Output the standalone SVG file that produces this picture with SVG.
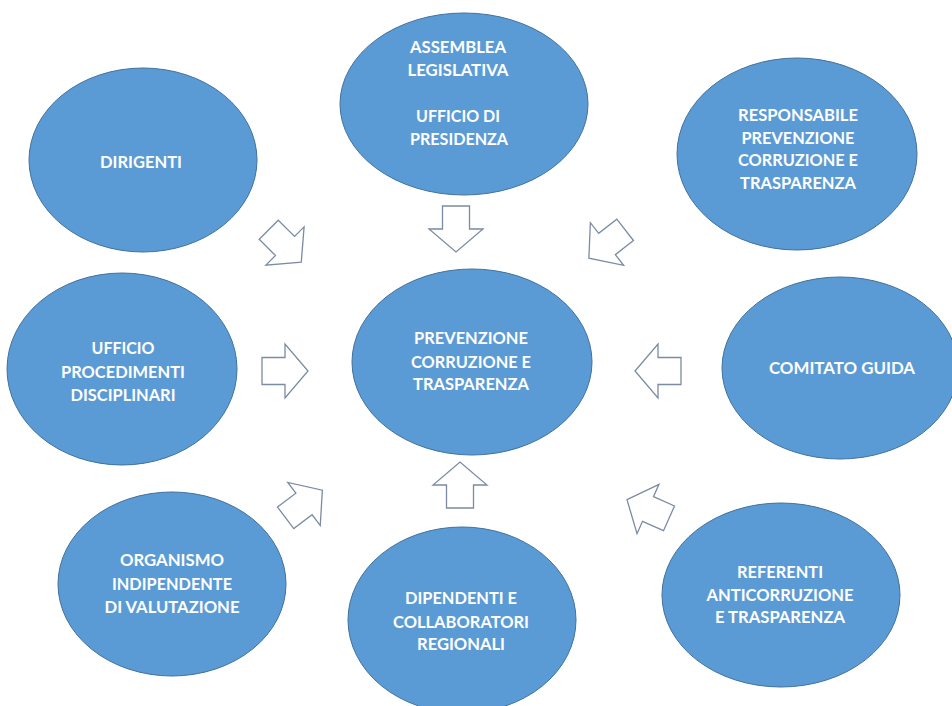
<svg xmlns="http://www.w3.org/2000/svg" xmlns:xlink="http://www.w3.org/1999/xlink" width="952" height="706" viewBox="0 0 952 706">
<style>
.node ellipse{fill:#5b9bd5;stroke:#41719c;stroke-width:1}
.node text{fill:#ffffff;font-family:Lato,"Open Sans","Liberation Sans",sans-serif;font-weight:bold;font-size:17.5px;text-anchor:middle}
.arrow{fill:#ffffff;stroke:#7b8ba3;stroke-width:1.3;stroke-linejoin:miter}
</style>
<defs>
<polygon id="arr" class="arrow" points="-23,-13.5 0,-13.5 0,-27 23,0 0,27 0,13.5 -23,13.5"/>
</defs>
<rect x="0" y="0" width="952" height="706" fill="#ffffff"/>

<g id="connectors">
<use xlink:href="#arr" transform="translate(456,229) rotate(90)"/>
<use xlink:href="#arr" transform="translate(285,246) rotate(45)"/>
<use xlink:href="#arr" transform="translate(607,244) rotate(142)"/>
<use xlink:href="#arr" transform="translate(285,371) rotate(0)"/>
<use xlink:href="#arr" transform="translate(658,371) rotate(180)"/>
<use xlink:href="#arr" transform="translate(460,485) rotate(-90)"/>
<use xlink:href="#arr" transform="translate(304,504) rotate(-37)"/>
<use xlink:href="#arr" transform="translate(648,509) rotate(204)"/>
</g>

<g id="assemblea" class="node">
<ellipse cx="464" cy="104" rx="124" ry="91"/>
<text x="458" y="53" textLength="96" lengthAdjust="spacingAndGlyphs">ASSEMBLEA</text>
<text x="458" y="76" textLength="101" lengthAdjust="spacingAndGlyphs">LEGISLATIVA</text>
<text x="458" y="122" textLength="84" lengthAdjust="spacingAndGlyphs">UFFICIO DI</text>
<text x="459" y="145" textLength="98" lengthAdjust="spacingAndGlyphs">PRESIDENZA</text>
</g>

<g id="dirigenti" class="node">
<ellipse cx="143" cy="160" rx="114" ry="92"/>
<text x="141" y="168" textLength="82" lengthAdjust="spacingAndGlyphs">DIRIGENTI</text>
</g>

<g id="responsabile" class="node">
<ellipse cx="797" cy="154" rx="120" ry="96"/>
<text x="798" y="121" textLength="120" lengthAdjust="spacingAndGlyphs">RESPONSABILE</text>
<text x="798" y="144" textLength="113" lengthAdjust="spacingAndGlyphs">PREVENZIONE</text>
<text x="798" y="166" textLength="120" lengthAdjust="spacingAndGlyphs">CORRUZIONE E</text>
<text x="798" y="189" textLength="116" lengthAdjust="spacingAndGlyphs">TRASPARENZA</text>
</g>

<g id="ufficio-procedimenti" class="node">
<ellipse cx="122" cy="369" rx="115" ry="96"/>
<text x="123" y="354" textLength="63" lengthAdjust="spacingAndGlyphs">UFFICIO</text>
<text x="123" y="378" textLength="124" lengthAdjust="spacingAndGlyphs">PROCEDIMENTI</text>
<text x="123" y="401" textLength="105" lengthAdjust="spacingAndGlyphs">DISCIPLINARI</text>
</g>

<g id="prevenzione" class="node">
<ellipse cx="472" cy="362" rx="120" ry="93"/>
<text x="471" y="344" textLength="114" lengthAdjust="spacingAndGlyphs">PREVENZIONE</text>
<text x="471" y="368" textLength="120" lengthAdjust="spacingAndGlyphs">CORRUZIONE E</text>
<text x="471" y="390" textLength="116" lengthAdjust="spacingAndGlyphs">TRASPARENZA</text>
</g>

<g id="comitato" class="node">
<ellipse cx="840" cy="368" rx="118" ry="91"/>
<text x="842" y="374" textLength="146" lengthAdjust="spacingAndGlyphs">COMITATO GUIDA</text>
</g>

<g id="organismo" class="node">
<ellipse cx="172" cy="584" rx="114" ry="92"/>
<text x="172" y="566" textLength="104" lengthAdjust="spacingAndGlyphs">ORGANISMO</text>
<text x="172" y="590" textLength="120" lengthAdjust="spacingAndGlyphs">INDIPENDENTE</text>
<text x="172" y="613" textLength="135" lengthAdjust="spacingAndGlyphs">DI VALUTAZIONE</text>
</g>

<g id="dipendenti" class="node">
<ellipse cx="462" cy="620" rx="114" ry="93"/>
<text x="461" y="604" textLength="112" lengthAdjust="spacingAndGlyphs">DIPENDENTI E</text>
<text x="461" y="628" textLength="136" lengthAdjust="spacingAndGlyphs">COLLABORATORI</text>
<text x="461" y="650" textLength="88" lengthAdjust="spacingAndGlyphs">REGIONALI</text>
</g>

<g id="referenti" class="node">
<ellipse cx="781" cy="595" rx="119" ry="92"/>
<text x="780" y="578" textLength="86" lengthAdjust="spacingAndGlyphs">REFERENTI</text>
<text x="780" y="601" textLength="147" lengthAdjust="spacingAndGlyphs">ANTICORRUZIONE</text>
<text x="780" y="623" textLength="130" lengthAdjust="spacingAndGlyphs">E TRASPARENZA</text>
</g>
</svg>
